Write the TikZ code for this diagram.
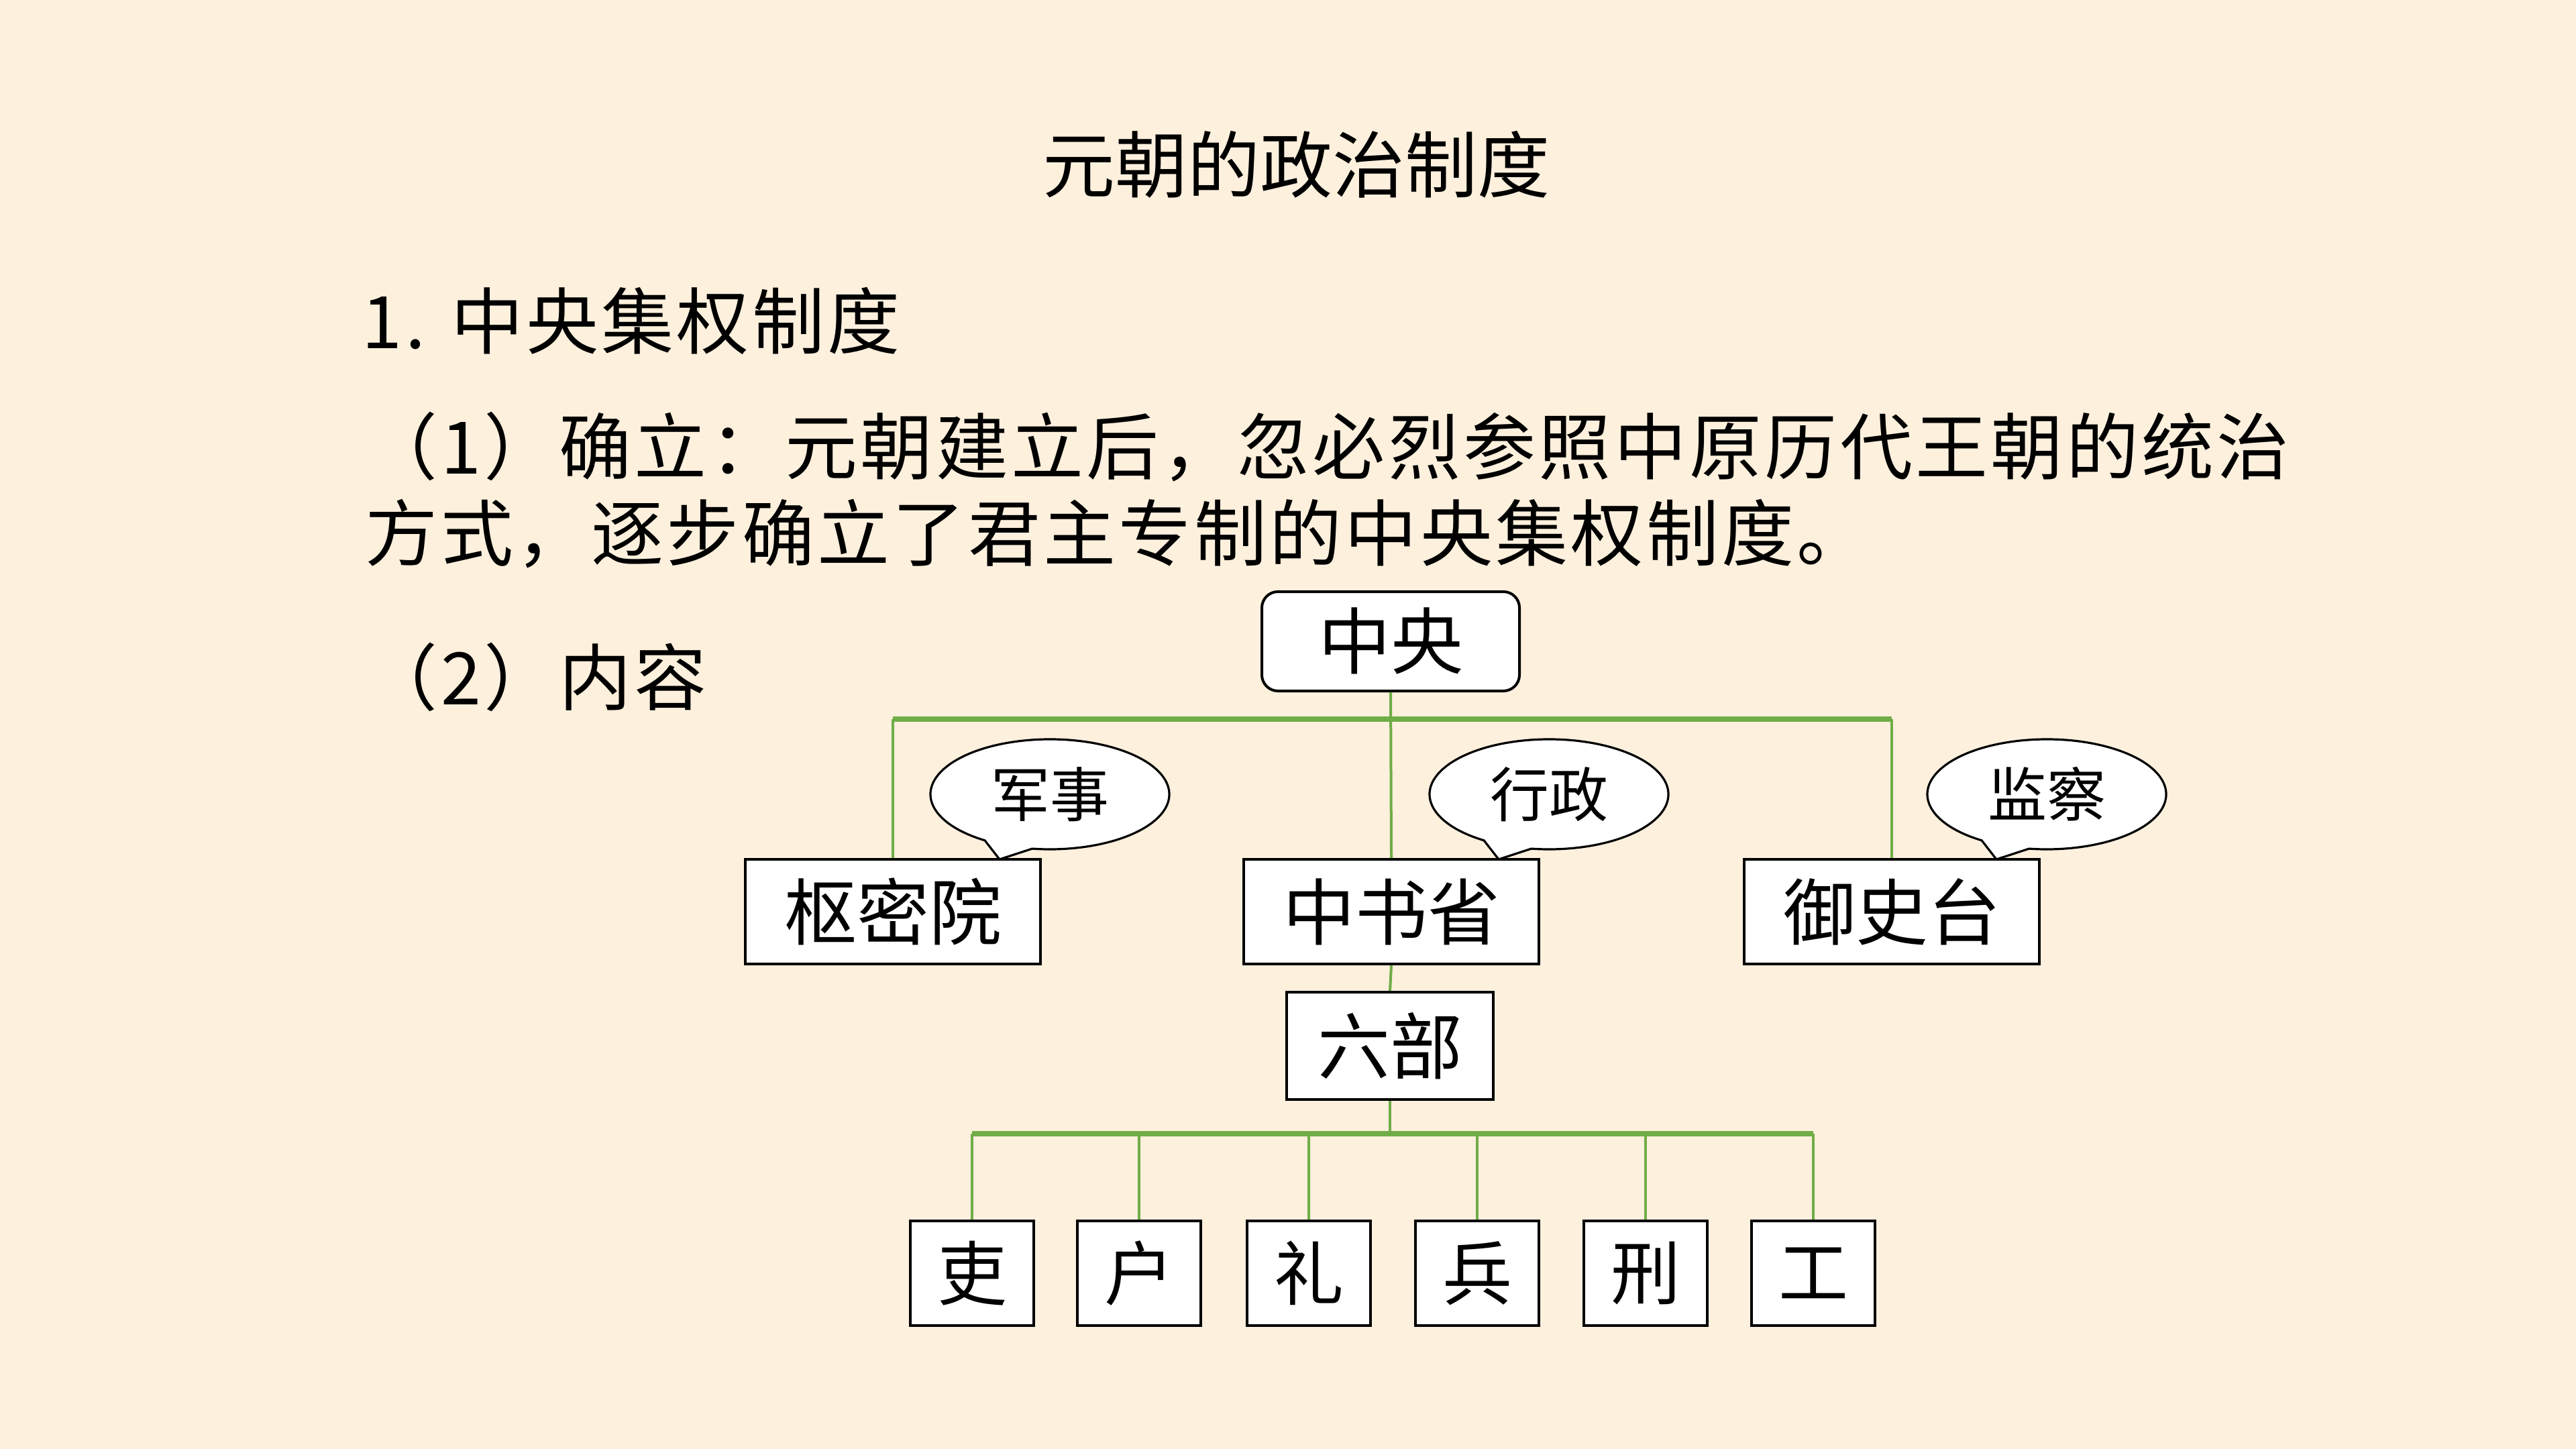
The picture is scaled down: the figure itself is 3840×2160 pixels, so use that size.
\documentclass[tikz,border=0pt]{standalone}
\usepackage{fontspec}
\newfontfamily\cjk{Noto Sans CJK SC}
\newfontfamily\cjksp[LetterSpace=4]{Noto Sans CJK SC}
\definecolor{bg}{RGB}{253,240,221}
\definecolor{grn}{RGB}{112,173,71}
\begin{document}
\begin{tikzpicture}[x=0.25pt,y=0.25pt,
  txt/.style={font=\cjksp\fontsize{27}{32}\selectfont, inner sep=0, anchor=west},
  box/.style={draw=black, fill=white, line width=1pt, inner sep=0, font=\cjk\fontsize{27}{32}\selectfont},
  midbox/.style={box, minimum width=110pt, minimum height=39pt},
  smallbox/.style={box, minimum width=46pt, minimum height=39pt, font=\cjk\fontsize{26}{30}\selectfont},
  bub/.style={draw=black, fill=white, line width=0.8pt, line join=round},
  btxt/.style={font=\cjk\fontsize{22}{26}\selectfont, inner sep=0},
  vline/.style={draw=grn, line width=1pt},
  hbar/.style={draw=grn, line width=2pt}]
\fill[bg] (0,0) rectangle (3840,-2160);
\useasboundingbox (0,0) rectangle (3840,-2160);

% texts
\node[font=\cjk\fontsize{27}{32}\selectfont, inner sep=0] (title) at (1932,-245) {元朝的政治制度};
\node[txt] (h1) at (539,-478) {1. 中央集权制度};
\node[txt] (l1) at (544,-666) {（1）确立：元朝建立后，忽必烈参照中原历代王朝的统治};
\node[txt] (l2) at (544,-796) {方式，逐步确立了君主专制的中央集权制度。};
\node[txt] (l3) at (544,-1009) {（2）内容};

% boxes
\node[box, rounded corners=6pt, minimum width=96pt, minimum height=37pt] (zy) at (2073,-956) {中央};
\node[midbox] (smy) at (1331,-1359) {枢密院};
\node[midbox] (zsh) at (2074,-1359) {中书省};
\node[midbox] (ysh) at (2820,-1359) {御史台};
\node[box, minimum width=77pt, minimum height=40pt] (lb) at (2072,-1559) {六部};
\node[smallbox] (li) at (1449,-1898) {吏};
\node[smallbox] (hu) at (1698,-1898) {户};
\node[smallbox] (lii) at (1951,-1898) {礼};
\node[smallbox] (bing) at (2202,-1898) {兵};
\node[smallbox] (xing) at (2453,-1898) {刑};
\node[smallbox] (gong) at (2703,-1898) {工};

% connectors top
\coordinate (hb) at (0,-1072);
\draw[vline] (zy.south) -- (zsh.north);
\draw[vline] (smy.north |- hb) -- (smy.north);
\draw[vline] (ysh.north |- hb) -- (ysh.north);
\draw[hbar] (smy.north |- hb) -- (ysh.north |- hb);
\draw[vline] (zsh.south) -- (lb.north);

% connectors bottom
\coordinate (hb2) at (0,-1690);
\draw[vline] (lb.south) -- (lb.south |- hb2);
\foreach \n in {li,hu,lii,bing,xing,gong}{
  \draw[vline] (\n.north |- hb2) -- (\n.north);
}
\draw[hbar] (li.north |- hb2) -- (gong.north |- hb2);

% speech bubbles
\foreach \cx/\nm/\t in {1565/b1/军事, 2309/b2/行政, 3051/b3/监察}{
  \draw[bub] (\cx,-1184) ++(237:44.5pt and 20.5pt)
     arc[start angle=237, end angle=-98.5, x radius=44.5pt, y radius=20.5pt]
     -- (\cx-75,-1281) -- cycle;
  \node[btxt] (\nm) at (\cx,-1184) {\t};
}
\end{tikzpicture}
\end{document}
